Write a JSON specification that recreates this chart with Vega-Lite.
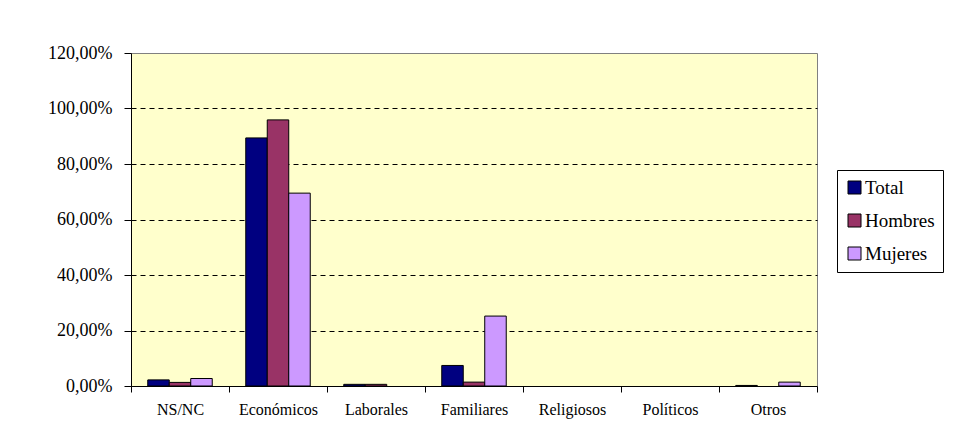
{
  "$schema": "https://vega.github.io/schema/vega-lite/v6.json",
  "width": 686,
  "height": 333,
  "autosize": {"type": "none"},
  "padding": {"left": 131, "top": 53, "right": 137, "bottom": 62},
  "background": "white",
  "data": {
    "values": [
      {"cat": "NS/NC", "serie": "Total", "v": 0.022},
      {"cat": "NS/NC", "serie": "Hombres", "v": 0.013},
      {"cat": "NS/NC", "serie": "Mujeres", "v": 0.027},
      {"cat": "Económicos", "serie": "Total", "v": 0.894},
      {"cat": "Económicos", "serie": "Hombres", "v": 0.959},
      {"cat": "Económicos", "serie": "Mujeres", "v": 0.695},
      {"cat": "Laborales", "serie": "Total", "v": 0.006},
      {"cat": "Laborales", "serie": "Hombres", "v": 0.006},
      {"cat": "Laborales", "serie": "Mujeres", "v": 0.0},
      {"cat": "Familiares", "serie": "Total", "v": 0.074},
      {"cat": "Familiares", "serie": "Hombres", "v": 0.014},
      {"cat": "Familiares", "serie": "Mujeres", "v": 0.252},
      {"cat": "Religiosos", "serie": "Total", "v": 0.0},
      {"cat": "Religiosos", "serie": "Hombres", "v": 0.0},
      {"cat": "Religiosos", "serie": "Mujeres", "v": 0.0},
      {"cat": "Políticos", "serie": "Total", "v": 0.0},
      {"cat": "Políticos", "serie": "Hombres", "v": 0.0},
      {"cat": "Políticos", "serie": "Mujeres", "v": 0.0},
      {"cat": "Otros", "serie": "Total", "v": 0.002},
      {"cat": "Otros", "serie": "Hombres", "v": 0.0},
      {"cat": "Otros", "serie": "Mujeres", "v": 0.014}
    ]
  },
  "mark": {"type": "bar", "stroke": "black", "strokeWidth": 1},
  "encoding": {
    "x": {
      "field": "cat",
      "type": "nominal",
      "sort": ["NS/NC", "Económicos", "Laborales", "Familiares", "Religiosos", "Políticos", "Otros"],
      "scale": {"paddingInner": 0, "paddingOuter": 0},
      "axis": {
        "title": null,
        "labelAngle": 0,
        "tickBand": "extent",
        "tickSize": 6,
        "tickColor": "black",
        "domainColor": "black",
        "labelFont": "Liberation Serif",
        "labelFontSize": 16,
        "labelColor": "black",
        "labelPadding": 9,
        "grid": false
      }
    },
    "xOffset": {
      "field": "serie",
      "type": "nominal",
      "sort": ["Total", "Hombres", "Mujeres"],
      "scale": {"paddingInner": 0, "paddingOuter": 0.78}
    },
    "y": {
      "field": "v",
      "type": "quantitative",
      "scale": {"domain": [0, 1.2], "nice": false},
      "axis": {
        "title": null,
        "values": [0, 0.2, 0.4, 0.6, 0.8, 1.0, 1.2],
        "format": ".2%",
        "tickSize": 7,
        "tickColor": "black",
        "domainColor": "black",
        "labelFont": "Liberation Serif",
        "labelFontSize": 18,
        "labelColor": "black",
        "labelPadding": 12,
        "grid": true,
        "gridColor": "black",
        "gridDash": [5, 4],
        "gridOpacity": {"condition": {"test": "datum.value == 0 || datum.value >= 1.2", "value": 0}, "value": 1}
      }
    },
    "strokeOpacity": {"condition": {"test": "datum.v == 0", "value": 0}, "value": 1},
    "color": {
      "field": "serie",
      "type": "nominal",
      "sort": ["Total", "Hombres", "Mujeres"],
      "scale": {"domain": ["Total", "Hombres", "Mujeres"], "range": ["#000080", "#993366", "#CC99FF"]},
      "legend": {
        "title": null,
        "orient": "none",
        "legendX": 706,
        "legendY": 117,
        "fillColor": "white",
        "strokeColor": "black",
        "padding": 8,
        "symbolType": "square",
        "symbolSize": 169,
        "symbolStrokeColor": "black",
        "symbolStrokeWidth": 1,
        "symbolOpacity": 1,
        "labelFont": "Liberation Serif",
        "labelFontSize": 19,
        "labelColor": "black",
        "labelOffset": 1,
        "rowPadding": 13
      }
    }
  },
  "config": {
    "font": "Liberation Serif",
    "locale": {"number": {"decimal": ",", "thousands": ".", "grouping": [3], "currency": ["", " €"]}},
    "view": {"fill": "#FFFFCC", "stroke": "#808080", "strokeWidth": 1}
  }
}
